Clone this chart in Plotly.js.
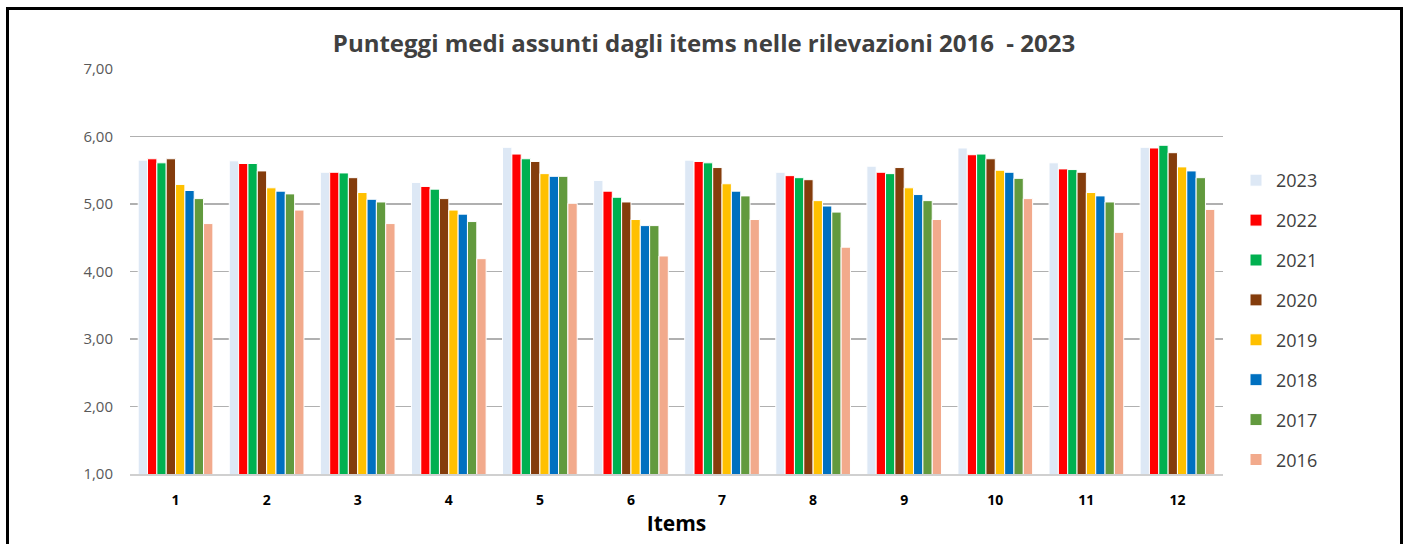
<!DOCTYPE html>
<html>
<head>
<meta charset="utf-8">
<script src="https://cdn.plot.ly/plotly-3.0.1.min.js"></script>
<style>
html,body{margin:0;padding:0;background:#fff;}
#chart{width:1404px;height:544px;}
</style>
</head>
<body>
<div id="chart"></div>
<script>
const items = ["1","2","3","4","5","6","7","8","9","10","11","12"];
const years = ["2023","2022","2021","2020","2019","2018","2017","2016"];
const v2023 = [5.65,5.64,5.47,5.32,5.84,5.35,5.65,5.47,5.56,5.83,5.61,5.84];
const v2022 = [5.67,5.60,5.47,5.26,5.74,5.19,5.63,5.42,5.47,5.73,5.52,5.83];
const v2021 = [5.61,5.60,5.46,5.22,5.67,5.10,5.61,5.39,5.45,5.74,5.51,5.87];
const v2020 = [5.67,5.49,5.39,5.08,5.63,5.03,5.54,5.36,5.54,5.67,5.47,5.76];
const v2019 = [5.29,5.24,5.17,4.91,5.45,4.77,5.30,5.05,5.24,5.50,5.17,5.55];
const v2018 = [5.20,5.19,5.07,4.85,5.41,4.68,5.19,4.97,5.14,5.47,5.12,5.49];
const v2017 = [5.08,5.15,5.03,4.74,5.41,4.68,5.12,4.88,5.05,5.38,5.03,5.39];
const v2016 = [4.71,4.91,4.71,4.19,5.01,4.23,4.77,4.36,4.77,5.08,4.58,4.92];
const seriesValues = [v2023,v2022,v2021,v2020,v2019,v2018,v2017,v2016];
const colors = ["#dde8f5","#ff0000","#00b050","#843c0c","#ffc000","#0070c0","#629a3e","#f2aa8c"];

const traces = years.map((y,i)=>({
  type:"bar",
  name:y,
  x:items,
  y:seriesValues[i],
  legendgroup:"g"+i,
  marker:{color:colors[i], line:{color:"#ffffff", width:1}},
  hoverinfo:"x+y+name"
}));

const FONT = "'Open Sans', 'Noto Sans', sans-serif";
const L=130, R=181, T=69, B=70, W=1404, H=544;
const pw = W-L-R, ph = H-T-B;
const px = X => (X-L)/pw;
const py = Y => (H-B-Y)/ph;

const layout = {
  width:W, height:H,
  margin:{l:L, r:R, t:T, b:B, pad:0},
  paper_bgcolor:"#ffffff",
  plot_bgcolor:"#ffffff",
  font:{family:FONT, color:"#404040"},
  separators:",.",
  barmode:"group",
  bargap:0.18,
  bargroupgap:0,
  title:{
    text:"<b>Punteggi medi assunti dagli items nelle rilevazioni 2016  - 2023</b>",
    font:{size:24, color:"#404040", family:FONT},
    x:704/W, xref:"container", xanchor:"center",
    y:1-44/H, yref:"container", yanchor:"middle"
  },
  xaxis:{
    type:"category",
    showgrid:false,
    zeroline:false,
    showline:true,
    linecolor:"#d0d0d0",
    linewidth:2,
    ticks:"",
    ticklabelstandoff:12,
    tickfont:{size:14, color:"#000000", family:FONT, weight:"bold"},
    title:{text:"<b>Items</b>", font:{size:21, color:"#000000", family:FONT}, standoff:9}
  },
  yaxis:{
    range:[1,7],
    dtick:1,
    tick0:1,
    tickformat:".2f",
    showgrid:true,
    gridcolor:"#b0b0b0",
    gridwidth:1.3,
    zeroline:false,
    showline:false,
    ticks:"",
    ticklabelstandoff:16,
    tickfont:{size:15, color:"#595959", family:FONT}
  },
  legend:{
    x:px(1236), xanchor:"left",
    y:py(162), yanchor:"top",
    font:{size:18, color:"#404040", family:FONT},
    traceorder:"grouped",
    tracegroupgap:13.5,
    bgcolor:"rgba(0,0,0,0)"
  },
  showlegend:true,
  shapes:[{
    type:"rect", xref:"paper", yref:"paper",
    x0:px(7.5), x1:px(1401.5), y0:py(560), y1:py(8.5),
    line:{color:"#000000", width:3},
    fillcolor:"rgba(0,0,0,0)",
    layer:"above"
  }]
};

Plotly.newPlot("chart", traces, layout, {displayModeBar:false, staticPlot:true});
</script>
</body>
</html>
